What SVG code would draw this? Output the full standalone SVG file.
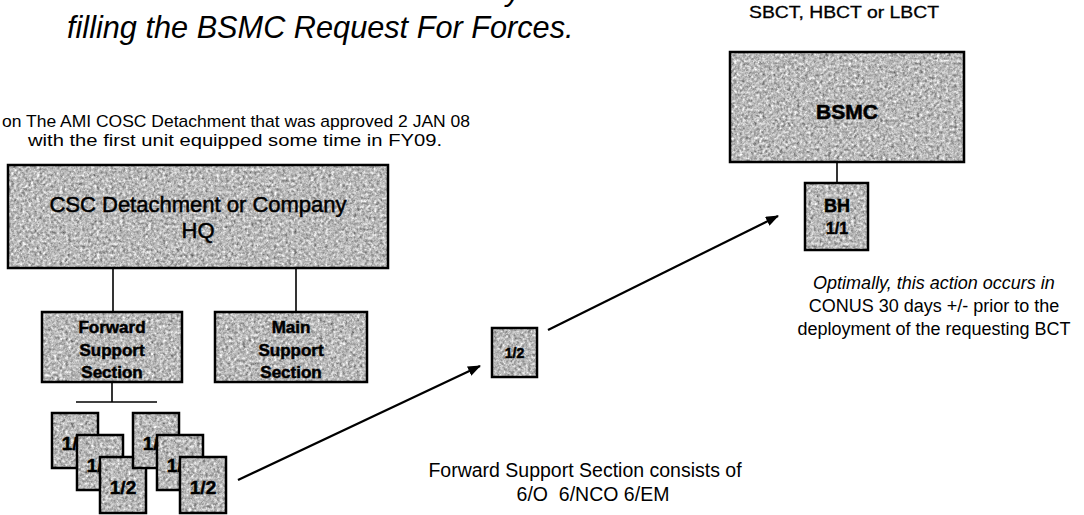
<svg xmlns="http://www.w3.org/2000/svg" width="1084" height="515" viewBox="0 0 1084 515">
<defs>
<style>
.t{font-family:"Liberation Sans",Arial,sans-serif;fill:#000}
.c{text-anchor:middle}
.b{font-weight:bold}
.i{font-style:italic}
.in{stroke:#000;stroke-width:0.5}
.bg{fill:#fff;filter:url(#grain)}
.fr{fill:none;stroke:#000;stroke-width:2.5}
.conn{stroke:#000;stroke-width:1.6;fill:none}
.arr{stroke:#000;stroke-width:2.2;fill:none;marker-end:url(#ah)}
</style>
<filter id="grain" x="0" y="0" width="1" height="1" color-interpolation-filters="sRGB">
<feTurbulence type="fractalNoise" baseFrequency="0.35" numOctaves="4" seed="7" result="n"/>
<feColorMatrix in="n" type="matrix" values="0.33 0.33 0.33 0 0  0.33 0.33 0.33 0 0  0.33 0.33 0.33 0 0  0 0 0 0 1" result="g"/>
<feComponentTransfer in="g" result="m">
<feFuncR type="linear" slope="1.35" intercept="0.06"/>
<feFuncG type="linear" slope="1.35" intercept="0.06"/>
<feFuncB type="linear" slope="1.35" intercept="0.06"/>
</feComponentTransfer>
<feComposite in="m" in2="SourceAlpha" operator="in"/>
</filter>
<marker id="ah" markerWidth="13" markerHeight="10" refX="12" refY="5" orient="auto" markerUnits="userSpaceOnUse">
<path d="M0,0 L13,5 L0,10 z" fill="#000"/>
</marker>
</defs>
<rect width="1084" height="515" fill="#fff"/>

<g id="title">
<text class="t i" x="506" y="1" font-size="30">y</text>
<text class="t i" x="67" y="38" font-size="30.7">filling the BSMC Request For Forces.</text>
</g>

<g id="note-ami">
<text class="t" x="2" y="127" font-size="17" textLength="468" lengthAdjust="spacingAndGlyphs">on The AMI COSC Detachment that was approved 2 JAN 08</text>
<text class="t" x="28" y="146" font-size="17" textLength="414" lengthAdjust="spacingAndGlyphs">with the first unit equipped some time in FY09.</text>
</g>

<g id="note-bct">
<text class="t" x="749" y="18" font-size="16.5" textLength="190" lengthAdjust="spacingAndGlyphs" stroke="#000" stroke-width="0.3">SBCT, HBCT or LBCT</text>
</g>

<g id="note-timing">
<text class="t c i" x="934" y="289" font-size="18">Optimally, this action occurs in</text>
<text class="t c" x="934" y="312" font-size="18">CONUS 30 days +/- prior to the</text>
<text class="t c" x="934" y="335" font-size="18">deployment of the requesting BCT</text>
</g>

<g id="note-fss">
<text class="t c" x="585" y="477" font-size="19.5">Forward Support Section consists of</text>
<text class="t c" x="593" y="501" font-size="19.5" xml:space="preserve">6/O  6/NCO 6/EM</text>
</g>

<g id="connectors">
<line class="conn" x1="113" y1="268" x2="113" y2="312"/>
<line class="conn" x1="296" y1="268" x2="296" y2="312"/>
<line class="conn" x1="112" y1="382" x2="112" y2="402"/>
<line class="conn" x1="76" y1="402" x2="157" y2="402"/>
<line class="conn" x1="837" y1="162" x2="837" y2="183"/>
<line class="arr" x1="238" y1="480" x2="480" y2="366"/>
<line class="arr" x1="548" y1="330" x2="778" y2="216"/>
</g>

<g id="n-csc">
<rect class="bg" x="8" y="165" width="380" height="103"/>
<rect class="fr" x="8" y="165" width="380" height="103"/>
<text class="t c in" x="198" y="212" font-size="22">CSC Detachment or Company</text>
<text class="t c in" x="198" y="238" font-size="22">HQ</text>
</g>

<g id="n-fss">
<rect class="bg" x="42" y="312" width="140" height="70"/>
<rect class="fr" x="42" y="312" width="140" height="70"/>
<text class="t c b in" x="112" y="333" font-size="17">Forward</text>
<text class="t c b in" x="112" y="356" font-size="17">Support</text>
<text class="t c b in" x="112" y="378" font-size="17">Section</text>
</g>

<g id="n-mss">
<rect class="bg" x="215" y="312" width="152" height="70"/>
<rect class="fr" x="215" y="312" width="152" height="70"/>
<text class="t c b in" x="291" y="333" font-size="17">Main</text>
<text class="t c b in" x="291" y="356" font-size="17">Support</text>
<text class="t c b in" x="291" y="378" font-size="17">Section</text>
</g>

<g id="n-t1">
<rect class="bg" x="52" y="413" width="46" height="55"/>
<rect class="fr" x="52" y="413" width="46" height="55"/>
<text class="t c b in" x="75" y="450" font-size="19">1/2</text>
</g>
<g id="n-t2">
<rect class="bg" x="77" y="435" width="46" height="55"/>
<rect class="fr" x="77" y="435" width="46" height="55"/>
<text class="t c b in" x="100" y="472" font-size="19">1/2</text>
</g>
<g id="n-t3">
<rect class="bg" x="100" y="457" width="46" height="56"/>
<rect class="fr" x="100" y="457" width="46" height="56"/>
<text class="t c b in" x="123" y="494" font-size="19">1/2</text>
</g>
<g id="n-t4">
<rect class="bg" x="133" y="413" width="46" height="55"/>
<rect class="fr" x="133" y="413" width="46" height="55"/>
<text class="t c b in" x="156" y="450" font-size="19">1/2</text>
</g>
<g id="n-t5">
<rect class="bg" x="157" y="435" width="46" height="55"/>
<rect class="fr" x="157" y="435" width="46" height="55"/>
<text class="t c b in" x="180" y="472" font-size="19">1/2</text>
</g>
<g id="n-t6">
<rect class="bg" x="180" y="457" width="46" height="56"/>
<rect class="fr" x="180" y="457" width="46" height="56"/>
<text class="t c b in" x="203" y="494" font-size="19">1/2</text>
</g>

<g id="n-mid">
<rect class="bg" x="492" y="328" width="45" height="49"/>
<rect class="fr" x="492" y="328" width="45" height="49"/>
<text class="t c b in" x="514.5" y="358" font-size="14">1/2</text>
</g>

<g id="n-bsmc">
<rect class="bg" x="730" y="52" width="234" height="110"/>
<rect class="fr" x="730" y="52" width="234" height="110"/>
<text class="t c b in" x="847" y="119" font-size="21">BSMC</text>
</g>

<g id="n-bh">
<rect class="bg" x="805" y="183" width="63" height="67"/>
<rect class="fr" x="805" y="183" width="63" height="67"/>
<text class="t c b in" x="837" y="212" font-size="18">BH</text>
<text class="t c b in" x="837" y="234" font-size="16">1/1</text>
</g>
</svg>
